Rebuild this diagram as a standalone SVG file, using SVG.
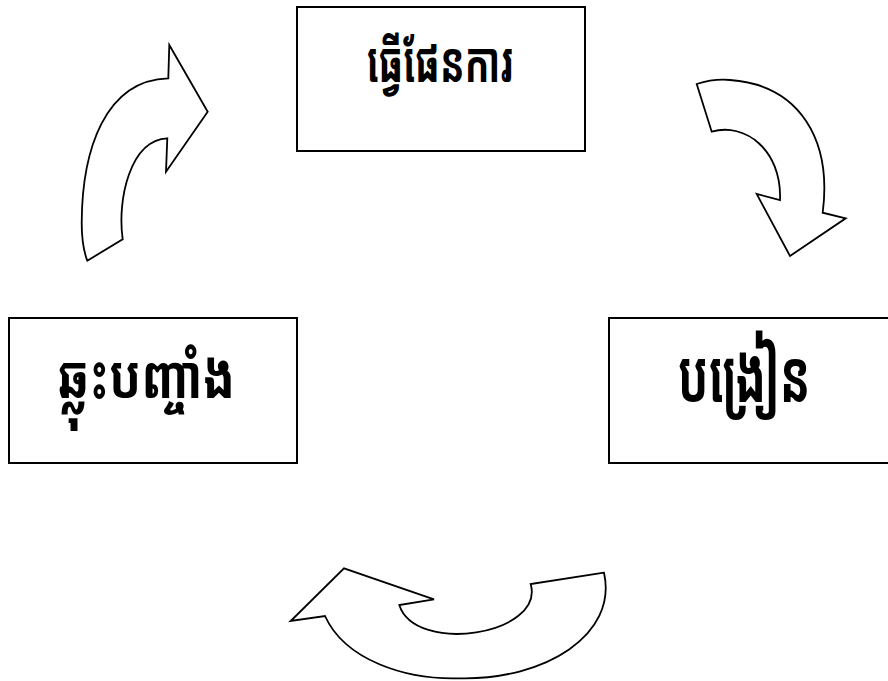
<svg xmlns="http://www.w3.org/2000/svg" width="888" height="681" viewBox="0 0 888 681">
<style>
.box{fill:#fff;stroke:#000;stroke-width:2}
.arr{fill:#fff;stroke:#000;stroke-width:1.8;stroke-linejoin:miter}
.lbl{font-family:"Noto Sans Khmer","Khmer OS","Khmer OS System",sans-serif;font-weight:bold;fill:#000;text-anchor:middle}
</style>
<rect width="888" height="681" fill="#fff"/>
<g id="node-plan">
<rect class="box" x="297" y="7" width="288" height="144"/>
<text class="lbl" transform="translate(440,82) scale(0.83,1.28)" font-size="44">ធ្វើផែនការ</text>
</g>
<g id="node-teach">
<rect class="box" x="609" y="318" width="290" height="145"/>
<text class="lbl" transform="translate(744,402) scale(0.87,1.42)" font-size="52">បង្រៀន</text>
</g>
<g id="node-reflect">
<rect class="box" x="9" y="318" width="288" height="145"/>
<text class="lbl" transform="translate(146,398) scale(1.03,1.3)" font-size="46">ឆ្លុះបញ្ចាំង</text>
</g>
<g id="connectors">
<path class="arr" d="M 87.3,260.7 L 122.7,239.3 C 117,200 130,140 167.3,138.3 L 166,171.7 L 207.7,111.7 L 169.3,45 L 168.3,78.3 C 105,80 82,150 81.7,223 C 81.7,240 84,252 87.3,260.7 Z"/>
<path class="arr" d="M 696.7,84 L 711.7,131.7 C 745,122 782,150 780,200 L 756.7,194 L 790,256 L 845.7,218.3 L 822.7,212.7 C 832,140 800,85 730,80 C 718,79 706,81 696.7,84 Z"/>
<path class="arr" d="M 604,572.7 L 530.7,584 C 545,635 415,655 399.3,605 L 434,599.3 L 344,568.3 L 290.7,621 L 325,616 C 345,660 405,680 460,678.3 C 545,680 618,635 604,572.7 Z"/>
</g>
</svg>
